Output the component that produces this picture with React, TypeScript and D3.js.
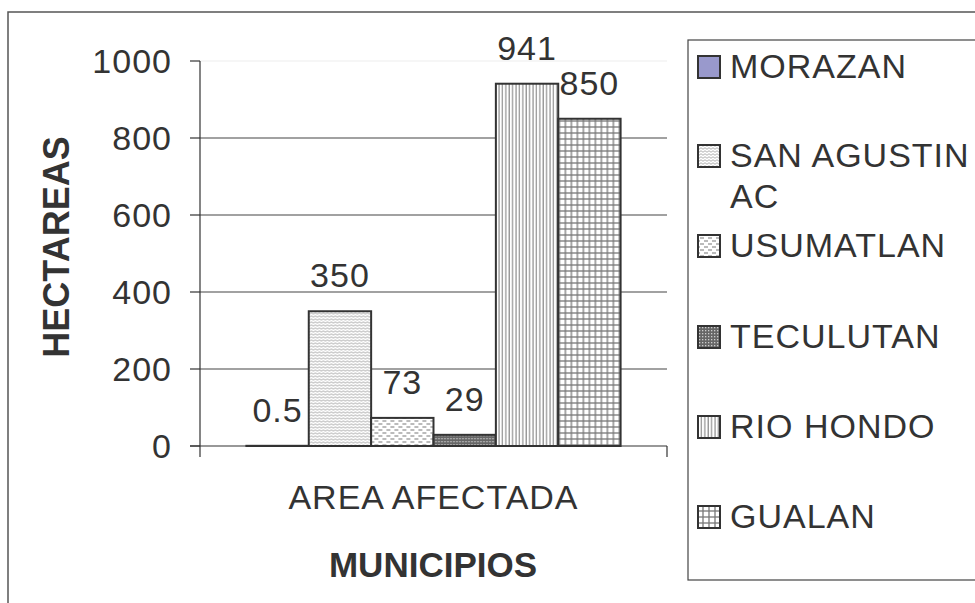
import React from "react";
import * as d3 from "d3";

const categories = ["AREA AFECTADA"];
const municipios = ["MORAZAN", "SAN AGUSTIN AC", "USUMATLAN", "TECULUTAN", "RIO HONDO", "GUALAN"];
const values = [0.5, 350, 73, 29, 941, 850];
const valueLabels = ["0.5", "350", "73", "29", "941", "850"];
const legendLines = [["MORAZAN"], ["SAN AGUSTIN", "AC"], ["USUMATLAN"], ["TECULUTAN"], ["RIO HONDO"], ["GUALAN"]];
const yTicks = [0, 200, 400, 600, 800, 1000];
const fills = ["#9999cc", "url(#pWave)", "url(#pDash)", "url(#pDots)", "url(#pVert)", "url(#pGrid)"];

const W = 975, H = 603;
const plot = { left: 200, right: 667, top: 61, bottom: 446 };
const FONT = "'Liberation Sans', Arial, Helvetica, sans-serif";
const TXT = "#333";
const FS = 34;
const LS = 1;

export default function App() {
  const y = d3.scaleLinear().domain([0, 1000]).range([plot.bottom, plot.top]);
  const x0 = d3.scaleBand().domain(categories).range([plot.left, plot.right]).paddingInner(0).paddingOuter(0.124);
  const x1 = d3.scaleBand().domain(municipios).range([0, x0.bandwidth()]).padding(0);

  const legendRowY = [78, 167, 257, 348, 438, 528];

  return (
    <svg width={W} height={H} style={{ position: "absolute", left: 0, top: 0, background: "#fff" }} fontFamily={FONT}>
      <defs>
        <pattern id="pWave" width="4" height="3" patternUnits="userSpaceOnUse">
          <rect width="4" height="3" fill="#fff" />
          <path d="M0,1.5 L1,0.7 L2,1.5 L3,2.3 L4,1.5" stroke="#999" strokeWidth="0.8" fill="none" />
        </pattern>
        <pattern id="pDash" width="8" height="6" patternUnits="userSpaceOnUse">
          <rect width="8" height="6" fill="#fff" />
          <line x1="0" y1="1" x2="4" y2="1" stroke="#777" strokeWidth="1" />
          <line x1="4" y1="4" x2="8" y2="4" stroke="#777" strokeWidth="1" />
        </pattern>
        <pattern id="pDots" width="3" height="3" patternUnits="userSpaceOnUse">
          <rect width="3" height="3" fill="#666" />
          <rect x="0" y="0" width="1.3" height="1.3" fill="#ccc" />
        </pattern>
        <pattern id="pVert" width="3.4" height="4" patternUnits="userSpaceOnUse">
          <rect width="3.4" height="4" fill="#fff" />
          <line x1="1" y1="0" x2="1" y2="4" stroke="#777" strokeWidth="1" />
        </pattern>
        <pattern id="pGrid" width="6" height="6" patternUnits="userSpaceOnUse">
          <rect width="6" height="6" fill="#fff" />
          <line x1="1" y1="0" x2="1" y2="6" stroke="#777" strokeWidth="1.3" />
          <line x1="0" y1="1" x2="6" y2="1" stroke="#777" strokeWidth="1.3" />
        </pattern>
      </defs>

      {/* outer border */}
      <rect x={8} y={12} width={W} height={H} fill="none" stroke="#555" strokeWidth={1.5} />

      {/* gridlines */}
      {yTicks.filter((t) => t > 0).map((t) => (
        <line key={t} x1={plot.left} x2={plot.right} y1={y(t)} y2={y(t)} stroke={t === 1000 ? "#eee" : "#444"} strokeWidth={1.2} />
      ))}

      {/* bars */}
      {categories.map((c) => (
        <g key={c} transform={`translate(${x0(c)},0)`}>
          {municipios.map((m, i) => (
            <rect
              key={m}
              x={x1(m)}
              y={y(values[i])}
              width={x1.bandwidth()}
              height={y(0) - y(values[i])}
              fill={fills[i]}
              stroke="#333"
              strokeWidth={2}
            />
          ))}
          {municipios.map((m, i) => (
            <text
              key={m + "l"}
              x={(x1(m) as number) + x1.bandwidth() / 2}
              y={y(values[i]) - 24}
              textAnchor="middle"
              fontSize={FS}
              letterSpacing={LS}
              fill={TXT}
            >
              {valueLabels[i]}
            </text>
          ))}
        </g>
      ))}

      {/* axes */}
      <line x1={plot.left} x2={plot.left} y1={plot.top} y2={plot.bottom + 11} stroke="#333" strokeWidth={1.2} />
      <line x1={plot.left - 10} x2={plot.right} y1={plot.bottom} y2={plot.bottom} stroke="#333" strokeWidth={1.2} />
      <line x1={plot.right} x2={plot.right} y1={plot.bottom} y2={plot.bottom + 11} stroke="#333" strokeWidth={1.2} />
      {yTicks.map((t) => (
        <g key={t}>
          <line x1={plot.left - 10} x2={plot.left} y1={y(t)} y2={y(t)} stroke="#333" strokeWidth={1.2} />
          <text x={172} y={y(t) + 12} textAnchor="end" fontSize={FS} letterSpacing={LS} fill={TXT}>
            {t}
          </text>
        </g>
      ))}
      {categories.map((c) => (
        <text key={c} x={(x0(c) as number) + x0.bandwidth() / 2} y={509} textAnchor="middle" fontSize={FS} letterSpacing={LS} fill={TXT}>
          {c}
        </text>
      ))}

      {/* axis titles */}
      <text x={433} y={577} textAnchor="middle" fontSize={35} fontWeight="bold" fill={TXT}>
        MUNICIPIOS
      </text>
      <text transform="translate(69,247) rotate(-90)" textAnchor="middle" fontSize={36} fontWeight="bold" fill={TXT}>
        HECTAREAS
      </text>

      {/* legend */}
      <rect x={688} y={40} width={W} height={540} fill="#fff" stroke="#444" strokeWidth={1.2} />
      {municipios.map((m, i) => (
        <g key={m}>
          <rect x={698} y={legendRowY[i] - 22} width={22} height={22} fill={fills[i]} stroke="#333" strokeWidth={2} />
          {legendLines[i].map((ln, j) => (
            <text key={ln} x={730} y={legendRowY[i] + j * 41} fontSize={FS} letterSpacing={LS} fill={TXT}>
              {ln}
            </text>
          ))}
        </g>
      ))}
    </svg>
  );
}
